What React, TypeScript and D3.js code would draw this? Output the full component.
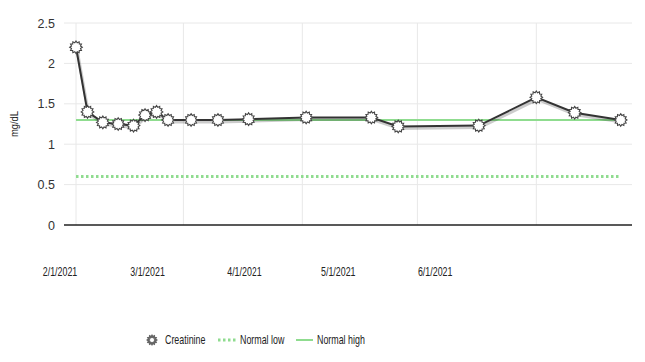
import React, { useEffect, useRef } from "react";
import * as d3 from "d3";

// creatinine results
const sampleDates = [
  "2021-02-01", "2021-02-04", "2021-02-08", "2021-02-12", "2021-02-16",
  "2021-02-19", "2021-02-22", "2021-02-25", "2021-03-03", "2021-03-10",
  "2021-03-18", "2021-04-02", "2021-04-19", "2021-04-26", "2021-05-17",
  "2021-06-01", "2021-06-11", "2021-06-23",
];
const creatinine = [
  2.2, 1.4, 1.27, 1.25, 1.23, 1.36, 1.4, 1.3, 1.3, 1.3,
  1.31, 1.33, 1.33, 1.22, 1.23, 1.58, 1.39, 1.3,
];
const normalLow = 0.6;
const normalHigh = 1.3;
const yTicks = [0, 0.5, 1, 1.5, 2, 2.5];
const legendItems = ["Creatinine", "Normal low", "Normal high"];

const W = 645;
const H = 362;
const plot = { left: 64, right: 632, top: 23, bottom: 225 };
const green = "#8fdc8f";
const sans = "Arial, 'Liberation Sans', sans-serif";
// the original uses a condensed face; squeeze Arial horizontally
const squeeze = 0.74;

const parse = d3.timeParse("%Y-%m-%d");
const fmt = d3.timeFormat("%-m/%-d/%Y");

// gear shaped marker
function gear(r: number) {
  const teeth = 12;
  const pts: [number, number][] = [];
  for (let i = 0; i < teeth * 2; i++) {
    pts.push([(Math.PI * i) / teeth, i % 2 === 0 ? r : r * 0.74]);
  }
  return d3.lineRadial().curve(d3.curveLinearClosed)(pts) as string;
}

function App() {
  const svgRef = useRef<SVGSVGElement>(null);

  useEffect(() => {
    const svg = d3.select(svgRef.current);
    svg.selectAll("*").remove();

    const data = sampleDates.map((d, i) => ({ date: parse(d) as Date, value: creatinine[i] }));
    const first = data[0].date;
    const last = data[data.length - 1].date;

    const x = d3.scaleTime().domain([first, last]).range([76, 620.7]);
    // the labels in the original sit on a squeezed scale
    const xLabel = d3.scaleTime().domain([first, last]).range([60, 504]);
    const y = d3.scaleLinear().domain([0, 2.5]).range([plot.bottom, plot.top]);

    const months = d3.timeMonth.range(first, last);

    // grid
    svg.append("g")
      .selectAll("line")
      .data(yTicks.slice(1))
      .join("line")
      .attr("x1", plot.left).attr("x2", plot.right)
      .attr("y1", (d) => y(d)).attr("y2", (d) => y(d))
      .attr("stroke", "#e8e8e8");
    svg.append("g")
      .selectAll("line")
      .data(months)
      .join("line")
      .attr("x1", (d) => x(d)).attr("x2", (d) => x(d))
      .attr("y1", plot.top).attr("y2", plot.bottom)
      .attr("stroke", "#e8e8e8");

    // y labels
    svg.append("g")
      .selectAll("text")
      .data(yTicks)
      .join("text")
      .attr("x", 55)
      .attr("y", (d) => y(d))
      .attr("dy", "0.36em")
      .attr("text-anchor", "end")
      .attr("font-family", sans)
      .attr("font-size", 12.5)
      .attr("fill", "#333")
      .text((d) => String(d));

    svg.append("text")
      .attr("transform", `translate(18,${(plot.top + plot.bottom) / 2}) rotate(-90) scale(0.9,1)`)
      .attr("text-anchor", "middle")
      .attr("font-family", sans)
      .attr("font-size", 10.5)
      .attr("fill", "#222")
      .text("mg/dL");

    // x labels
    svg.append("g")
      .selectAll("text")
      .data(months)
      .join("text")
      .attr("transform", (d) => `translate(${xLabel(d)},276) scale(${squeeze},1)`)
      .attr("text-anchor", "middle")
      .attr("font-family", sans)
      .attr("font-size", 12)
      .attr("fill", "#222")
      .text((d) => fmt(d));

    // normal range lines
    svg.append("line")
      .attr("x1", x(first)).attr("x2", x(last))
      .attr("y1", y(normalLow)).attr("y2", y(normalLow))
      .attr("stroke", green).attr("stroke-width", 3)
      .attr("stroke-dasharray", "2.5,2.5");
    svg.append("line")
      .attr("x1", x(first)).attr("x2", x(last))
      .attr("y1", y(normalHigh)).attr("y2", y(normalHigh))
      .attr("stroke", green).attr("stroke-width", 2);

    // x axis line
    svg.append("line")
      .attr("x1", plot.left).attr("x2", plot.right)
      .attr("y1", plot.bottom).attr("y2", plot.bottom)
      .attr("stroke", "#222").attr("stroke-width", 1.5);

    const line = d3.line<{ date: Date; value: number }>()
      .x((d) => x(d.date))
      .y((d) => y(d.value));

    // shadow + series
    svg.append("path")
      .attr("d", line(data))
      .attr("transform", "translate(1,2)")
      .attr("fill", "none")
      .attr("stroke", "rgba(0,0,0,0.2)")
      .attr("stroke-width", 3);
    svg.append("path")
      .attr("d", line(data))
      .attr("fill", "none")
      .attr("stroke", "#333")
      .attr("stroke-width", 2);

    const marker = gear(6.3);
    svg.append("g")
      .selectAll("path")
      .data(data)
      .join("path")
      .attr("transform", (d) => `translate(${x(d.date)},${y(d.value)})`)
      .attr("d", marker)
      .attr("fill", "#fff")
      .attr("stroke", "#444")
      .attr("stroke-width", 1.1);

    // legend
    const lg = svg.append("g").attr("font-family", sans).attr("font-size", 12).attr("fill", "#222");
    lg.append("path")
      .attr("transform", "translate(152,340)")
      .attr("d", gear(4.2))
      .attr("fill", "#fff")
      .attr("stroke", "#666")
      .attr("stroke-width", 2);
    const texts = [
      { x: 165, t: legendItems[0] },
      { x: 240, t: legendItems[1] },
      { x: 317, t: legendItems[2] },
    ];
    lg.selectAll("text")
      .data(texts)
      .join("text")
      .attr("transform", (d) => `translate(${d.x},344) scale(${squeeze},1)`)
      .text((d) => d.t);
    lg.append("line")
      .attr("x1", 218).attr("x2", 238).attr("y1", 340).attr("y2", 340)
      .attr("stroke", green).attr("stroke-width", 3).attr("stroke-dasharray", "2.5,2.5");
    lg.append("line")
      .attr("x1", 296).attr("x2", 313).attr("y1", 340).attr("y2", 340)
      .attr("stroke", green).attr("stroke-width", 2);
  }, []);

  return (
    <svg
      ref={svgRef}
      width={W}
      height={H}
      style={{ position: "absolute", left: 0, top: 0, background: "#fff" }}
    />
  );
}

export default App;
